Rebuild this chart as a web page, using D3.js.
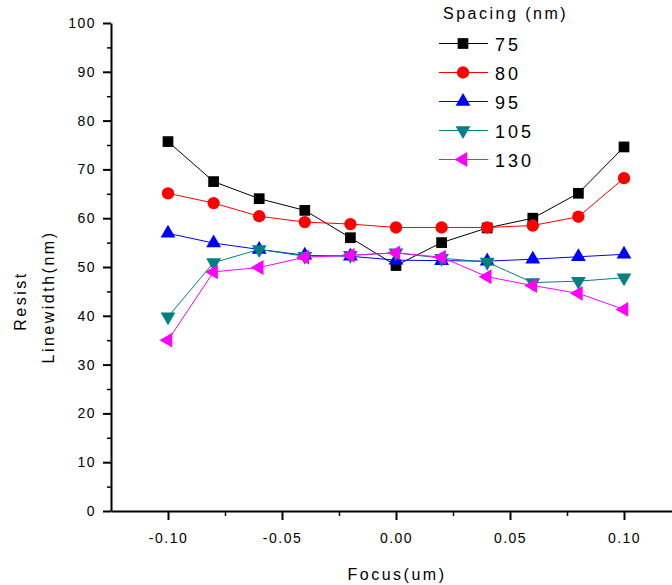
<!DOCTYPE html>
<html>
<head>
<meta charset="utf-8">
<script src="https://cdn.jsdelivr.net/npm/d3@7"></script>
<style>
  body { margin: 0; background: #fff; }
  text { font-family: "Liberation Sans", Arial, sans-serif; fill: #000; }
</style>
</head>
<body>
<div class="chart"></div>
<script>
// DATA ------------------------------
const focus = [-0.10, -0.08, -0.06, -0.04, -0.02, 0.00, 0.02, 0.04, 0.06, 0.08, 0.10];
const spacings = ["75", "80", "95", "105", "130"];
const s75  = [75.7, 67.5, 64.0, 61.6, 56.0, 50.3, 55.0, 58.0, 60.0, 65.1, 74.6];
const s80  = [65.1, 63.1, 60.4, 59.2, 58.8, 58.1, 58.1, 58.1, 58.5, 60.3, 68.2];
const s95  = [56.9, 54.9, 53.6, 52.4, 52.2, 51.4, 51.3, 51.2, 51.6, 52.1, 52.6];
const s105 = [39.8, 50.9, 53.6, 52.2, 52.4, 52.9, 51.8, 51.0, 46.8, 47.1, 47.8];
const s130 = [35.0, 49.0, 49.9, 52.0, 52.4, 52.9, 52.0, 48.0, 46.2, 44.6, 41.3];
const xTicks = [-0.10, -0.05, 0.00, 0.05, 0.10];
const yTicks = [0, 10, 20, 30, 40, 50, 60, 70, 80, 90, 100];

const series = [
    {name: "75",  values: s75,  color: "#000000", shape: d3.symbolSquare,   rot: 0,   size: 115},
    {name: "80",  values: s80,  color: "#ff0000", shape: d3.symbolCircle,   rot: 0,   size: 120},
    {name: "95",  values: s95,  color: "#0000ff", shape: d3.symbolTriangle, rot: 0,   size: 95},
    {name: "105", values: s105, color: "#008080", shape: d3.symbolTriangle, rot: 180, size: 95},
    {name: "130", values: s130, color: "#ff00ff", shape: d3.symbolTriangle, rot: -90, size: 95}
];

// CHART INIT ------------------------------
const W = 672, H = 585;

const svg = d3.select(".chart")
    .append("svg")
    .attr("width", W)
    .attr("height", H);

const xScale = d3.scaleLinear()
    .domain([-0.125, 0.125])
    .range([111, 681]);

const yScale = d3.scaleLinear()
    .domain([0, 100])
    .range([511, 23]);

// minor ticks
svg.append("g")
    .attr("transform", "translate(111,0)")
    .call(d3.axisLeft(yScale).tickValues(d3.range(5, 100, 10)).tickSize(4).tickFormat(""))
    .call(g => g.select(".domain").remove())
    .selectAll("line").attr("stroke-width", 1.5);

svg.append("g")
    .attr("transform", "translate(0,511)")
    .call(d3.axisBottom(xScale).tickValues([-0.075, -0.025, 0.025, 0.075]).tickSize(5).tickFormat(""))
    .call(g => g.select(".domain").remove())
    .selectAll("line").attr("stroke-width", 1.5);

// major axes
const yAxisGroup = svg.append("g")
    .attr("transform", "translate(111,0)")
    .call(d3.axisLeft(yScale).tickValues(yTicks).tickSize(8).tickPadding(7).tickSizeOuter(0).tickFormat(d => String(d)));

const xAxisGroup = svg.append("g")
    .attr("transform", "translate(0,511)")
    .call(d3.axisBottom(xScale).tickValues(xTicks).tickSize(9).tickPadding(13).tickSizeOuter(0).tickFormat(d => d.toFixed(2)));

[yAxisGroup, xAxisGroup].forEach(g => {
    g.select(".domain").attr("stroke-width", 2);
    g.selectAll(".tick line").attr("stroke-width", 2);
    g.selectAll(".tick text")
        .style("font-family", "'Liberation Sans', Arial, sans-serif")
        .style("font-size", "14px")
        .style("letter-spacing", "1.5px");
});

// axis titles
svg.append("text")
    .attr("x", 397)
    .attr("y", 580)
    .attr("text-anchor", "middle")
    .style("font-size", "16px")
    .style("letter-spacing", "2.5px")
    .text("Focus(um)");

svg.append("text")
    .attr("transform", "translate(26,301) rotate(-90)")
    .attr("text-anchor", "middle")
    .style("font-size", "16px")
    .style("letter-spacing", "2.5px")
    .text("Resist");

svg.append("text")
    .attr("transform", "translate(54,297) rotate(-90)")
    .attr("text-anchor", "middle")
    .style("font-size", "16px")
    .style("letter-spacing", "2.5px")
    .text("Linewidth(nm)");

// lines + markers
const line = d3.line()
    .x((d, i) => xScale(focus[i]))
    .y(d => yScale(d));

series.forEach(s => {
    const g = svg.append("g");
    g.append("path")
        .datum(s.values)
        .attr("fill", "none")
        .attr("stroke", s.color)
        .attr("stroke-width", 1)
        .attr("d", line);
    g.selectAll("path.pt")
        .data(s.values)
        .enter()
        .append("path")
        .attr("class", "pt")
        .attr("fill", s.color)
        .attr("d", d3.symbol().type(s.shape).size(s.size))
        .attr("transform", (d, i) => "translate(" + xScale(focus[i]) + "," + yScale(d) + ") rotate(" + s.rot + ")");
});

// legend
svg.append("text")
    .attr("x", 443)
    .attr("y", 19)
    .style("font-size", "16px")
    .style("letter-spacing", "2.5px")
    .text("Spacing (nm)");

series.forEach((s, i) => {
    const y = 43.5 + i * 29;
    const g = svg.append("g");
    g.append("line")
        .attr("x1", 439).attr("x2", 488)
        .attr("y1", y).attr("y2", y)
        .attr("stroke", s.color)
        .attr("stroke-width", 1);
    g.append("path")
        .attr("fill", s.color)
        .attr("d", d3.symbol().type(s.shape).size(s.size))
        .attr("transform", "translate(463," + y + ") rotate(" + s.rot + ")");
    g.append("text")
        .attr("x", 495)
        .attr("y", y + 7)
        .style("font-size", "18px")
        .style("letter-spacing", "3px")
        .text(spacings[i]);
});
</script>
</body>
</html>
